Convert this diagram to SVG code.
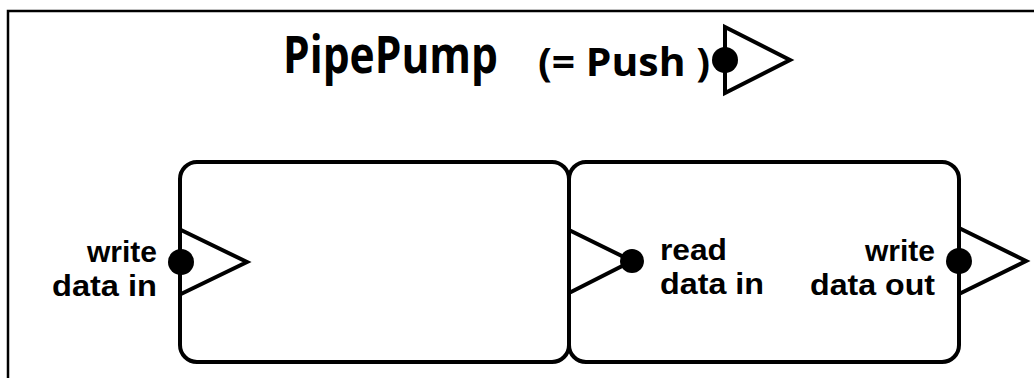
<svg xmlns="http://www.w3.org/2000/svg" width="1034" height="378" viewBox="0 0 1034 378">
  <style>
    .frame { fill: none; stroke: #000; stroke-width: 2.5; }
    .box { fill: #fff; stroke: #000; stroke-width: 4; }
    .port { fill: none; stroke: #000; stroke-width: 4; stroke-linejoin: miter; }
    .dot { fill: #000; }
    .title { font-family: "Open Sans", "Noto Sans", sans-serif; font-weight: bold; fill: #000; }
    .label { font-family: "Liberation Sans", Arial, sans-serif; font-weight: bold; font-size: 29px; fill: #000; }
  </style>
  <rect width="1034" height="378" fill="#fff"/>
  <!-- open frame: left and top edges only -->
  <path class="frame" d="M8,378 V11 H1034"/>

  <g id="title">
    <text class="title" x="283" y="73" font-size="52" textLength="215" lengthAdjust="spacingAndGlyphs">PipePump</text>
    <text class="title" x="538" y="76" font-size="40" textLength="172" lengthAdjust="spacingAndGlyphs">(= Push )</text>
    <polygon class="port" points="725,27 790,60 725,93"/>
    <circle class="dot" cx="725" cy="60" r="13"/>
  </g>

  <g id="pipe">
    <rect class="box" x="180" y="162" width="389" height="200" rx="17"/>
  </g>

  <g id="pump">
    <rect class="box" x="569" y="162" width="390" height="200" rx="17"/>
  </g>

  <g id="ports">
    <g id="pipe-write-in">
      <polyline class="port" points="181,230 247,262 181,294"/>
      <circle class="dot" cx="181" cy="262" r="13"/>
      <text class="label" x="157" y="262" text-anchor="end" textLength="70" lengthAdjust="spacingAndGlyphs">write</text>
      <text class="label" x="157" y="296" text-anchor="end" textLength="105" lengthAdjust="spacingAndGlyphs">data in</text>
    </g>
    <g id="pump-read-in">
      <polyline class="port" points="569,230 632,261 569,293"/>
      <circle class="dot" cx="632" cy="261" r="12"/>
      <text class="label" x="660" y="260" textLength="67" lengthAdjust="spacingAndGlyphs">read</text>
      <text class="label" x="660" y="294" textLength="104" lengthAdjust="spacingAndGlyphs">data in</text>
    </g>
    <g id="pump-write-out">
      <polyline class="port" points="959,228 1026,261 959,294"/>
      <circle class="dot" cx="959" cy="261" r="13"/>
      <text class="label" x="935" y="261" text-anchor="end" textLength="70" lengthAdjust="spacingAndGlyphs">write</text>
      <text class="label" x="935" y="295" text-anchor="end" textLength="125" lengthAdjust="spacingAndGlyphs">data out</text>
    </g>
  </g>
</svg>
